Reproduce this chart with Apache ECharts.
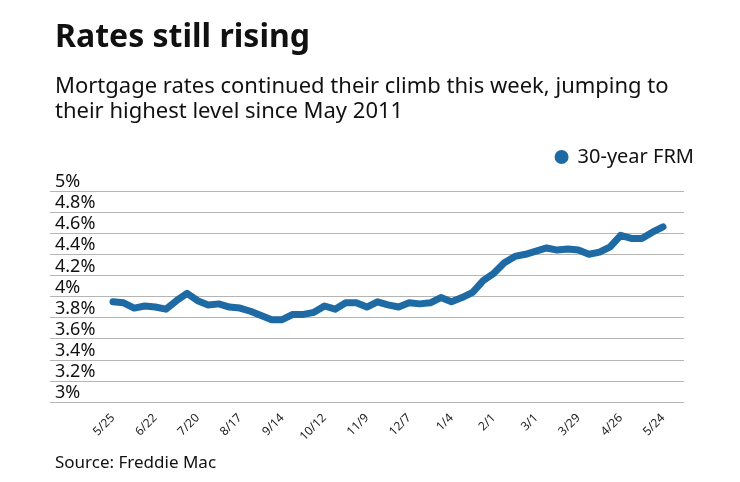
<!DOCTYPE html>
<html>
<head>
<meta charset="utf-8">
<script src="https://cdn.jsdelivr.net/npm/echarts@6/dist/echarts.min.js"></script>
<style>
html,body{margin:0;padding:0;background:#fff;}
#chart{width:740px;height:482px;}
</style>
</head>
<body>
<div id="chart"></div>
<script>
var titleText = 'Rates still rising';
var subtitleText = 'Mortgage rates continued their climb this week, jumping to\ntheir highest level since May 2011';
var sourceText = 'Source: Freddie Mac';
var seriesName = '30-year FRM';

var weeks = ['5/25','6/1','6/8','6/15','6/22','6/29','7/6','7/13','7/20','7/27',
  '8/3','8/10','8/17','8/24','8/31','9/7','9/14','9/21','9/28','10/5',
  '10/12','10/19','10/26','11/2','11/9','11/16','11/22','11/30','12/7','12/14',
  '12/21','12/28','1/4','1/11','1/18','1/25','2/1','2/8','2/15','2/22',
  '3/1','3/8','3/15','3/22','3/29','4/5','4/12','4/19','4/26','5/3',
  '5/10','5/17','5/24'];

var rates = [3.95,3.94,3.89,3.91,3.90,3.88,3.96,4.03,3.96,3.92,
  3.93,3.90,3.89,3.86,3.82,3.78,3.78,3.83,3.83,3.85,
  3.91,3.88,3.94,3.94,3.90,3.95,3.92,3.90,3.94,3.93,
  3.94,3.99,3.95,3.99,4.04,4.15,4.22,4.32,4.38,4.40,
  4.43,4.46,4.44,4.45,4.44,4.40,4.42,4.47,4.58,4.55,
  4.55,4.61,4.66];

var yMin = 3, yMax = 5, yStep = 0.2;

var FONT = '"Noto Sans", sans-serif';
var chart = echarts.init(document.getElementById('chart'), null, {renderer: 'canvas'});

chart.setOption({
  backgroundColor: '#ffffff',
  animation: false,
  textStyle: {fontFamily: FONT},
  title: [
    {text: titleText, left: 50, top: 17,
     textStyle: {fontFamily: FONT, fontSize: 32, fontWeight: 'bold', color: '#111'}},
    {text: subtitleText, left: 50, top: 69,
     textStyle: {fontFamily: FONT, fontSize: 22, fontWeight: 'normal', color: '#111', lineHeight: 25}},
    {text: sourceText, left: 50, top: 450,
     textStyle: {fontFamily: FONT, fontSize: 17, fontWeight: 'normal', color: '#111'}}
  ],
  legend: {
    data: [seriesName],
    right: 41, top: 142,
    icon: 'circle', itemWidth: 14, itemHeight: 14, itemGap: 10,
    textStyle: {fontFamily: FONT, fontSize: 20, color: '#111', padding: [0, 0, 0, 4]}
  },
  grid: [
    {left: 50, right: 56, top: 191, bottom: 80},
    {left: 113, right: 77, top: 191, bottom: 80}
  ],
  xAxis: [
    {type: 'value', gridIndex: 0, show: false, min: 0, max: 1},
    {type: 'category', gridIndex: 1, data: weeks, boundaryGap: false,
     axisLine: {show: false}, axisTick: {show: false},
     axisLabel: {interval: 3, rotate: 45, fontSize: 12, color: '#222', margin: 14, fontFamily: FONT}}
  ],
  yAxis: [
    {type: 'value', gridIndex: 0, min: yMin, max: yMax, interval: yStep,
     axisLine: {show: false}, axisTick: {show: false},
     splitLine: {show: true, lineStyle: {color: '#b5b5b5', width: 1}},
     axisLabel: {inside: true, verticalAlign: 'bottom', margin: 5, fontSize: 18, color: '#111', fontFamily: FONT,
       formatter: function (v) { return (Math.round(v * 10) / 10) + '%'; }}},
    {type: 'value', gridIndex: 1, min: yMin, max: yMax, show: false}
  ],
  series: [
    {name: seriesName, type: 'line', xAxisIndex: 1, yAxisIndex: 1, data: rates,
     showSymbol: false, symbol: 'circle', color: '#1e6aa4',
     lineStyle: {color: '#1e6aa4', width: 7, cap: 'round', join: 'round'}}
  ]
});
</script>
</body>
</html>
